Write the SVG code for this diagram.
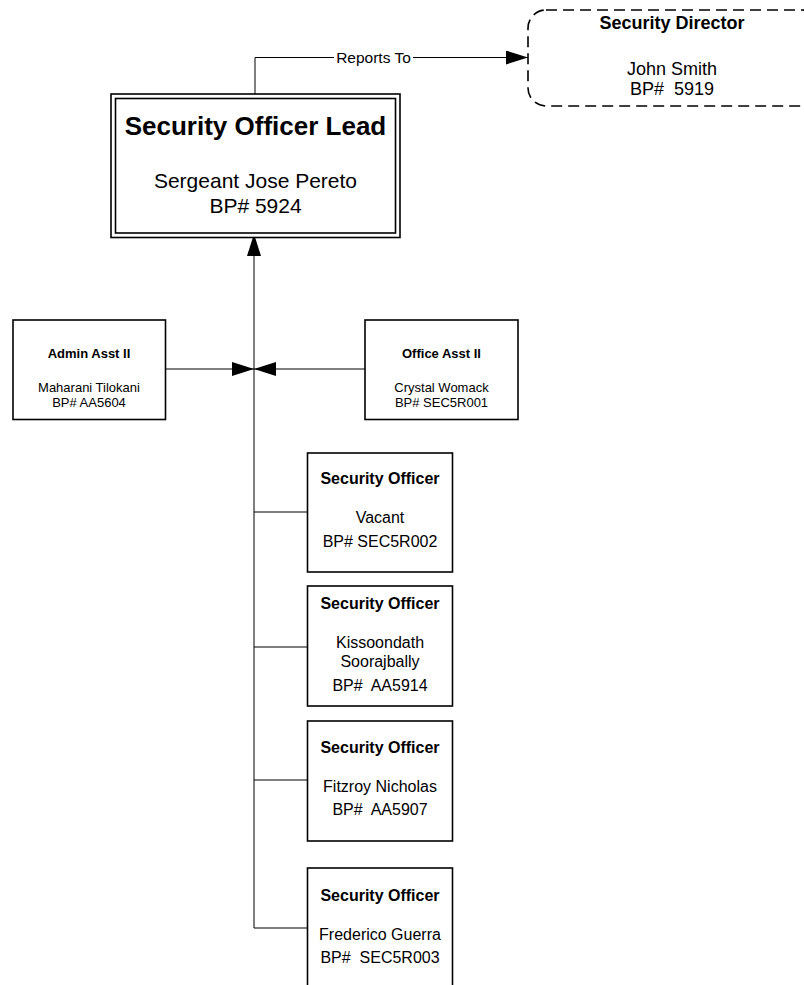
<svg xmlns="http://www.w3.org/2000/svg" width="804" height="985" viewBox="0 0 804 985">
<defs>
<marker id="arr" markerUnits="userSpaceOnUse" markerWidth="22" markerHeight="14" refX="22" refY="7" orient="auto">
<path d="M0,0 L22,7 L0,14 Z" fill="#000"/>
</marker>
<style>
text{font-family:"Liberation Sans",Arial,sans-serif;fill:#000;text-anchor:middle}
.b{font-weight:bold}
.box{fill:#fff;stroke:#000;stroke-width:1.6}
.con{fill:none;stroke:#000;stroke-width:1}
</style>
</defs>
<rect width="804" height="985" fill="#fff"/>
<g id="connectors">
<path class="con" d="M255,94 V57.5 H334"/>
<path class="con" d="M413,57.5 H528" marker-end="url(#arr)"/>
<path class="con" d="M254,928 V234" marker-end="url(#arr)"/>
<path class="con" d="M165.5,369 H254" marker-end="url(#arr)"/>
<path class="con" d="M365,369 H254" marker-end="url(#arr)"/>
<path class="con" d="M254,512 H307.5 M254,647 H307.5 M254,780 H307.5 M254,928 H307.5"/>
<text x="373.5" y="63" style="font-size:15.5px">Reports To</text>
</g>
<g id="lead">
<rect x="111" y="94" width="289" height="143.5" fill="#fff" stroke="#000" stroke-width="1.6"/>
<rect x="115.5" y="98.5" width="280" height="134.5" fill="none" stroke="#000" stroke-width="1.6"/>
<text class="b" x="255.5" y="135" style="font-size:26px">Security Officer Lead</text>
<text x="255.5" y="188" style="font-size:21px">Sergeant Jose Pereto</text>
<text x="255.5" y="213" style="font-size:21px">BP# 5924</text>
</g>
<g id="director">
<rect x="528" y="10" width="292" height="96" rx="18" ry="18" fill="#fff" stroke="#000" stroke-width="1.6" stroke-dasharray="11,6"/>
<text class="b" x="672" y="29" style="font-size:18px">Security Director</text>
<text x="672" y="75" style="font-size:18px">John Smith</text>
<text x="672" y="95" style="font-size:18px" xml:space="preserve">BP#  5919</text>
</g>
<g id="admin">
<rect class="box" x="13" y="320" width="152.5" height="99.5"/>
<text class="b" x="89" y="357.5" style="font-size:13px">Admin Asst II</text>
<text x="89" y="391.5" style="font-size:13px">Maharani Tilokani</text>
<text x="89" y="407" style="font-size:13px">BP# AA5604</text>
</g>
<g id="office">
<rect class="box" x="365" y="320" width="153" height="99.5"/>
<text class="b" x="441.5" y="357.5" style="font-size:13px">Office Asst II</text>
<text x="441.5" y="391.5" style="font-size:13px">Crystal Womack</text>
<text x="441.5" y="407" style="font-size:13px">BP# SEC5R001</text>
</g>
<g id="officer1">
<rect class="box" x="307.5" y="453" width="145" height="119"/>
<text class="b" x="380" y="484" style="font-size:16px">Security Officer</text>
<text x="380" y="523" style="font-size:16px">Vacant</text>
<text x="380" y="547" style="font-size:16px">BP# SEC5R002</text>
</g>
<g id="officer2">
<rect class="box" x="307.5" y="586" width="145" height="120"/>
<text class="b" x="380" y="609" style="font-size:16px">Security Officer</text>
<text x="380" y="648" style="font-size:16px">Kissoondath</text>
<text x="380" y="667" style="font-size:16px">Soorajbally</text>
<text x="380" y="691" style="font-size:16px" xml:space="preserve">BP#  AA5914</text>
</g>
<g id="officer3">
<rect class="box" x="307.5" y="721" width="145" height="120"/>
<text class="b" x="380" y="753" style="font-size:16px">Security Officer</text>
<text x="380" y="791.5" style="font-size:16px">Fitzroy Nicholas</text>
<text x="380" y="815" style="font-size:16px" xml:space="preserve">BP#  AA5907</text>
</g>
<g id="officer4">
<rect class="box" x="307.5" y="868" width="145" height="125"/>
<text class="b" x="380" y="900.5" style="font-size:16px">Security Officer</text>
<text x="380" y="940" style="font-size:16px">Frederico Guerra</text>
<text x="380" y="963" style="font-size:16px" xml:space="preserve">BP#  SEC5R003</text>
</g>
</svg>
